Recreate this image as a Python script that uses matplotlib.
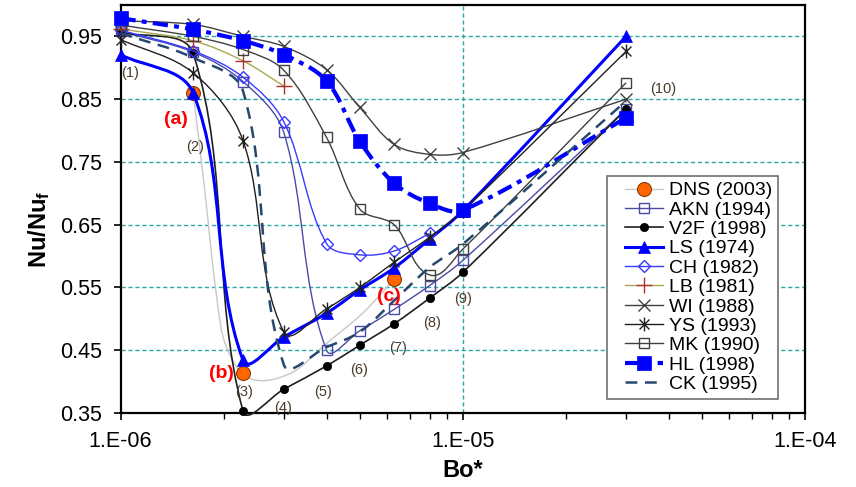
import numpy as np
import matplotlib
matplotlib.use('Agg')
import matplotlib.pyplot as plt
from matplotlib.path import Path
from matplotlib.patches import PathPatch
from matplotlib.lines import Line2D
from matplotlib.legend_handler import HandlerLine2D

plt.rcParams['font.family'] = ['Liberation Sans', 'DejaVu Sans']
plt.rcParams['mathtext.fontset'] = 'custom'
plt.rcParams['mathtext.rm'] = 'Liberation Sans'
plt.rcParams['mathtext.bf'] = 'Liberation Sans:bold'
plt.rcParams['lines.scale_dashes'] = False

# Bo* values shared by the model series
bo = [1.0e-6, 1.63e-6, 2.28e-6, 3.0e-6, 4.0e-6, 5.0e-6, 6.3e-6, 8.0e-6, 1.0e-5, 3.0e-5]

akn = [0.958, 0.925, 0.878, 0.797, 0.450, 0.481, 0.515, 0.553, 0.593, 0.834]
v2f = [0.957, 0.923, 0.353, 0.388, 0.425, 0.458, 0.492, 0.533, 0.574, 0.834]
ls = [0.921, 0.860, 0.434, 0.471, 0.509, 0.546, 0.581, 0.627, 0.672, 0.950]
ch = [0.960, 0.927, 0.885, 0.814, 0.620, 0.602, 0.608, 0.636]
lb = [0.962, 0.943, 0.911, 0.871]
wi = [0.975, 0.969, 0.950, 0.934, 0.897, 0.837, 0.778, 0.762, 0.765, 0.850]
ys = [0.945, 0.892, 0.784, 0.479, 0.516, 0.550, 0.590, 0.630, 0.672, 0.926]
mk = [0.968, 0.950, 0.929, 0.896, 0.789, 0.675, 0.650, 0.570, 0.611, 0.876]
hl = [0.979, 0.961, 0.943, 0.921, 0.879, 0.783, 0.716, 0.684, 0.673, 0.820]
ck = [0.955, 0.916, 0.863, 0.427, 0.455, 0.479, 0.529, 0.582, 0.619, 0.847]

# DNS: curve points and the three marked cases (a), (b), (c)
dns_x = [1.63e-6, 1.75e-6, 1.91e-6, 2.04e-6, 2.39e-6, 3.13e-6, 4.0e-6, 5.1e-6, 6.3e-6]
dns_y = [0.860, 0.720, 0.535, 0.455, 0.405, 0.413, 0.461, 0.509, 0.563]
dns_mx = [1.63e-6, 2.28e-6, 6.3e-6]
dns_my = [0.860, 0.414, 0.563]

num_labels = ['(1)', '(2)', '(3)', '(4)', '(5)', '(6)', '(7)', '(8)', '(9)', '(10)']
num_x = [1.07e-6, 1.65e-6, 2.30e-6, 2.99e-6, 3.91e-6, 4.99e-6, 6.48e-6, 8.11e-6, 1.0e-5, 3.85e-5]
num_y = [0.891, 0.774, 0.384, 0.358, 0.384, 0.418, 0.453, 0.493, 0.532, 0.866]
case_labels = ['(a)', '(b)', '(c)']
case_x = [1.45e-6, 1.975e-6, 6.1e-6]
case_y = [0.818, 0.413, 0.535]

W, H = 856, 487
fig = plt.figure(figsize=(W / 100, H / 100), dpi=100)
L, R, T, B = 120.5, 805, 5, 413
ax = fig.add_axes([L / W, (H - B) / H, (R - L) / W, (B - T) / H])
xmin, xmax, ymin, ymax = 1e-6, 1e-4, 0.35, 1.0
ax.set_xscale('log')
ax.set_xlim(xmin, xmax)
ax.set_ylim(ymin, ymax)

SX = (R - L) / (np.log10(xmax) - np.log10(xmin))
SY = (B - T) / (ymax - ymin)


def smooth(xs, ys):
    # excel-like smoothed line, bezier built in screen space
    P = np.column_stack([np.log10(xs) * SX, np.asarray(ys) * SY])
    n = len(P)
    verts = [P[0]]
    codes = [Path.MOVETO]
    for i in range(n - 1):
        p0 = P[i - 1] if i > 0 else P[i]
        p1, p2 = P[i], P[i + 1]
        p3 = P[i + 2] if i + 2 < n else P[i + 1]
        seg = np.hypot(*(p2 - p1))
        t1 = p2 - p0
        t1 = t1 / np.hypot(*t1)
        t2 = p3 - p1
        t2 = t2 / np.hypot(*t2)
        verts += [p1 + t1 * seg / 3, p2 - t2 * seg / 3, p2]
        codes += [Path.CURVE4] * 3
    V = np.array(verts)
    V = np.column_stack([10 ** (V[:, 0] / SX), V[:, 1] / SY])
    return Path(V, codes)


star = Path([(-1, -1), (1, 1), (-1, 1), (1, -1), (0, -1.4), (0, 1.4)],
            [Path.MOVETO, Path.LINETO, Path.MOVETO, Path.LINETO, Path.MOVETO, Path.LINETO])

series = [
    # label, x, y, line kw, marker kw
    ('DNS (2003)', dns_x, dns_y, dict(color='#c8c8c8', lw=1.0, ls='-'),
     dict(marker='o', ms=10, mfc='#ff6600', mec='#8b3a00', mew=0.8)),
    ('AKN (1994)', bo, akn, dict(color='#4b4ba6', lw=1.0, ls='-'),
     dict(marker='s', ms=6.5, mfc='none', mec='#4b4ba6', mew=1.0)),
    ('V2F (1998)', bo, v2f, dict(color='#202020', lw=1.2, ls='-'),
     dict(marker='o', ms=6, mfc='black', mec='black', mew=0.5)),
    ('LS (1974)', bo, ls, dict(color='#0000ff', lw=2.2, ls='-'),
     dict(marker='^', ms=9, mfc='#0000ff', mec='#0000ff', mew=0.5)),
    ('CH (1982)', bo[:len(ch)], ch, dict(color='#3a3aff', lw=1.0, ls='-'),
     dict(marker='D', ms=6.5, mfc='none', mec='#3a3aff', mew=1.0)),
    ('LB (1981)', bo[:len(lb)], lb, dict(color='#a8a850', lw=1.0, ls='-'),
     dict(marker='+', ms=11, mfc='none', mec='#b03030', mew=1.0)),
    ('WI (1988)', bo, wi, dict(color='#404040', lw=1.0, ls='-'),
     dict(marker='x', ms=9, mfc='none', mec='#404040', mew=1.0)),
    ('YS (1993)', bo, ys, dict(color='#202020', lw=1.0, ls='-'),
     dict(marker=star, ms=10, mfc='none', mec='#202020', mew=1.0)),
    ('MK (1990)', bo, mk, dict(color='#404040', lw=1.0, ls='-'),
     dict(marker='s', ms=6.5, mfc='none', mec='#404040', mew=1.0)),
    ('HL (1998)', bo, hl, dict(color='#0000ff', lw=3.0, ls=(0, (11, 4.5, 3.5, 4.5))),
     dict(marker='s', ms=9.5, mfc='#0000ff', mec='#0000ff', mew=0.5)),
    ('CK (1995)', bo, ck, dict(color='#24486e', lw=1.8, ls=(0, (8.5, 5.5))),
     dict(marker='None')),
]

handles = []
for i, (lab, x, y, lkw, mkw) in enumerate(series):
    z = 3 + i
    ax.add_patch(PathPatch(smooth(x, y), fill=False, zorder=z, capstyle='butt', clip_on=False,
                           edgecolor=lkw['color'], lw=lkw['lw'], ls=lkw['ls']))
    if lab.startswith('DNS'):
        ax.plot(dns_mx, dns_my, ls='none', zorder=z + 0.5, clip_on=False, **mkw)
    elif mkw['marker'] != 'None':
        ax.plot(x, y, ls='none', zorder=z + 0.5, clip_on=False, **mkw)
    handles.append(Line2D([], [], label=lab, **lkw, **mkw))

for t, x, y in zip(num_labels, num_x, num_y):
    ax.text(x, y, t, fontsize=10.5, color='#4a3a28', ha='center', va='center', zorder=20)
for t, x, y in zip(case_labels, case_x, case_y):
    ax.text(x, y, t, fontsize=14, color='#ff0000', fontweight='bold', ha='center', va='center', zorder=20)

# grid
ax.set_yticks([0.35, 0.45, 0.55, 0.65, 0.75, 0.85, 0.95])
for yv in [0.45, 0.55, 0.65, 0.75, 0.85, 0.95]:
    ax.axhline(yv, color='#2aa8a8', lw=1.0, ls=(0, (3, 2)), zorder=1)
ax.axvline(1e-5, color='#2aa8a8', lw=1.0, ls=(0, (3, 2)), zorder=1)

ax.set_xticks([1e-6, 1e-5, 1e-4])
ax.set_xticklabels(['1.E-06', '1.E-05', '1.E-04'])
ax.set_yticklabels(['0.35', '0.45', '0.55', '0.65', '0.75', '0.85', '0.95'])
ax.tick_params(axis='both', which='major', labelsize=15.5, length=5, width=1.2, pad=8, direction='out')
ax.tick_params(axis='x', which='minor', length=4, width=1.0, direction='out')
for s in ax.spines.values():
    s.set_linewidth(1.6)
    s.set_color('black')

ax.set_xlabel('Bo*', fontsize=17, fontweight='bold')
ax.xaxis.set_label_coords(0.5, -0.113)
ax.set_ylabel(r'$\mathbf{Nu/Nu_f}$', fontsize=17)
ax.yaxis.set_label_coords(-0.100, 0.45)

leg = ax.legend(handles=handles, loc='upper left', bbox_to_anchor=(0.711, 0.581),
                borderaxespad=0, fontsize=14, handlelength=2.59, handletextpad=0.31,
                labelspacing=0.09, borderpad=0.3, fancybox=False, framealpha=1,
                edgecolor='#707070', handler_map={Line2D: HandlerLine2D(xpad=0.63)})
leg.get_frame().set_linewidth(1.2)
leg.set_zorder(30)

fig.savefig('out.png', dpi=100)
